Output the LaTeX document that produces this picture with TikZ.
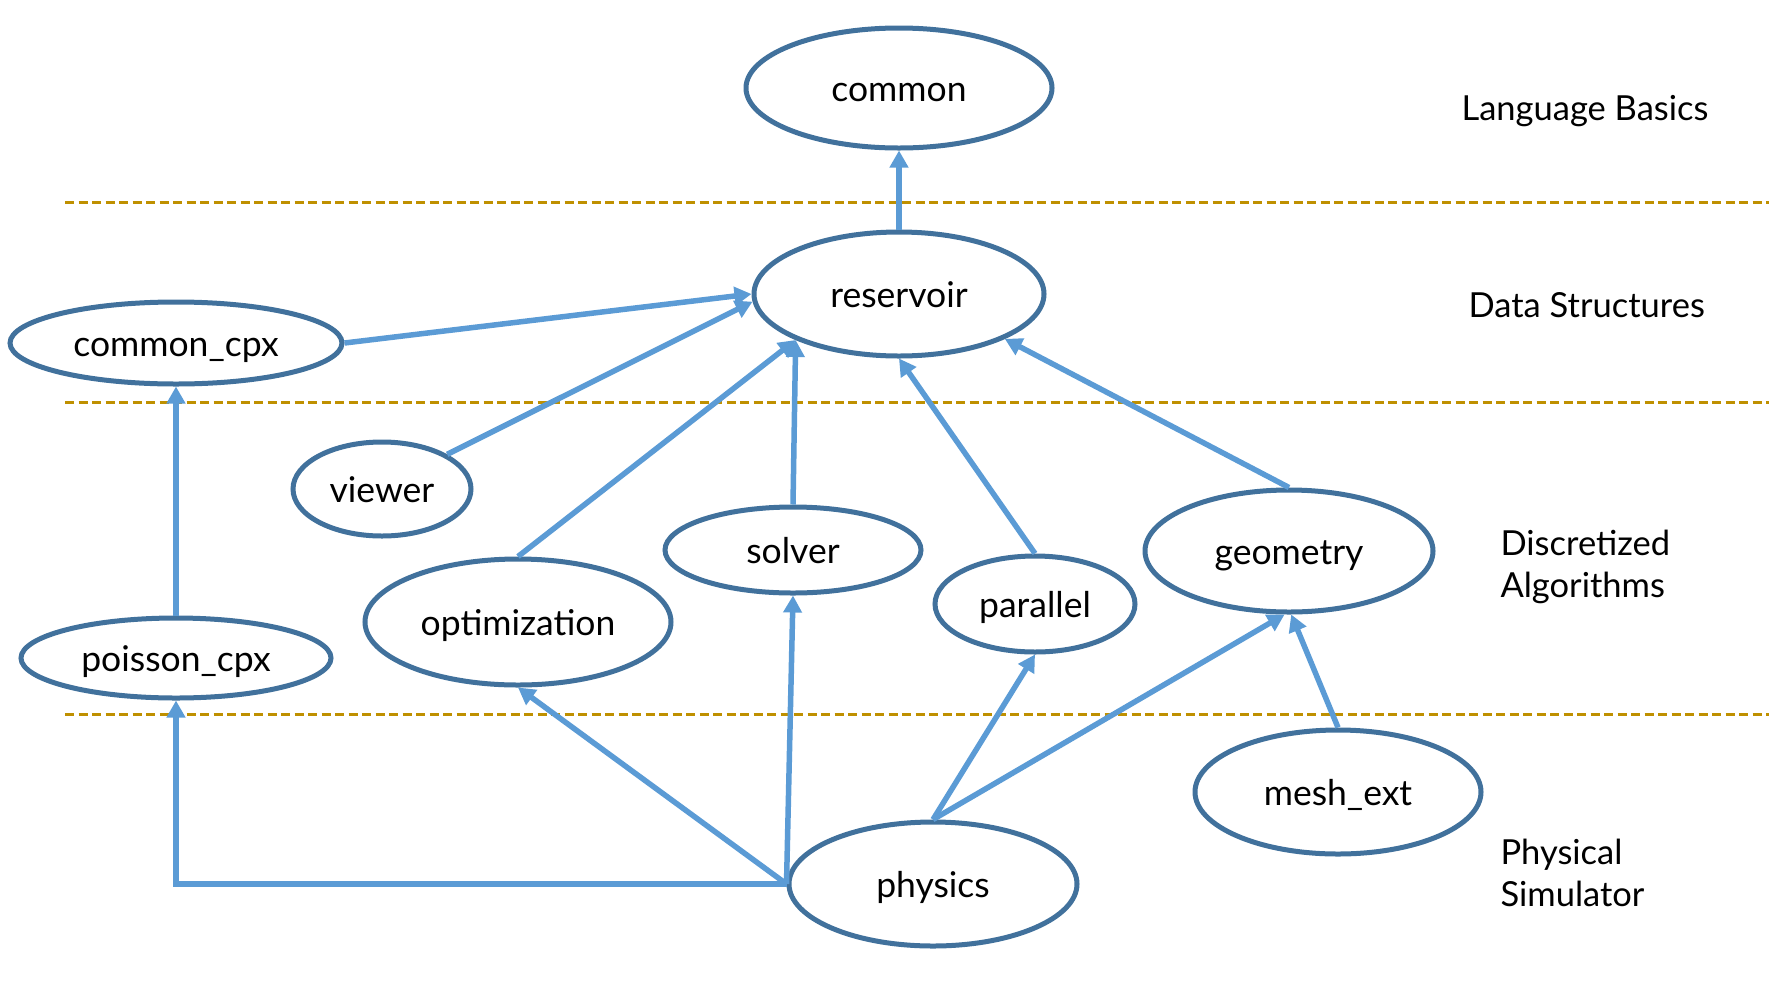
\documentclass[tikz,border=0pt]{standalone}
\usepackage{fontspec}
\setmainfont{Lato}
\usetikzlibrary{shapes.geometric,arrows.meta}
\definecolor{rimblue}{HTML}{41719C}
\definecolor{linkblue}{HTML}{5B9BD5}
\definecolor{layergold}{HTML}{BF9000}
\tikzset{
  module/.style={ellipse, draw=rimblue, line width=5pt, fill=white, inner sep=0pt,
    text height=26pt, text depth=0pt,
    font=\fontsize{35.5}{42}\selectfont},
  dep/.style={draw=linkblue, line width=5.5pt, -{Triangle[length=17pt,width=18pt]}},
  layerline/.style={draw=layergold, line width=3pt, dash pattern=on 9pt off 4.5pt},
  layertag/.style={anchor=west, align=left, font=\fontsize{34.5}{42}\selectfont}
}
\begin{document}
\begin{tikzpicture}[x=1pt,y=-1pt]
\useasboundingbox (0,0) rectangle (1789,989);

% layer separators
\coordinate (s1a) at (65,202);  \coordinate (s1b) at (1769,202);
\coordinate (s2a) at (65,402);  \coordinate (s2b) at (1769,402);
\coordinate (s3a) at (65,714);  \coordinate (s3b) at (1769,714);
\draw[layerline] (s1a) -- (s1b);
\draw[layerline] (s2a) -- (s2b);
\draw[layerline] (s3a) -- (s3b);

% layer names
\node[layertag] (lb) at (1458,111) {Language Basics};
\node[layertag] (ds) at (1465,305) {Data Structures};
\node[layertag] (da) at (1497,567) {Discretized\\Algorithms};
\node[layertag] (ps) at (1497,873) {Physical\\Simulator};

% modules
\node[module, minimum width=306pt, minimum height=120pt] (common)   at (899,88)  {common};
\node[module, minimum width=290pt, minimum height=124pt] (reservoir) at (899,294) {reservoir};
\node[module, minimum width=332pt, minimum height=82pt]  (ccpx)     at (176,343) {common\_cpx};
\node[module, minimum width=178pt, minimum height=94pt]  (viewer)   at (382,489) {viewer};
\node[module, minimum width=256pt, minimum height=86pt]  (solver)   at (793,550) {solver};
\node[module, minimum width=306pt, minimum height=126pt] (optim)    at (518,622) {optimization};
\node[module, minimum width=200pt, minimum height=96pt]  (parallel) at (1035,604) {parallel};
\node[module, minimum width=288pt, minimum height=122pt] (geometry) at (1289,551) {geometry};
\node[module, minimum width=310pt, minimum height=80pt]  (pcpx)     at (176,658) {poisson\_cpx};
\node[module, minimum width=286pt, minimum height=124pt] (mesh)     at (1338,792) {mesh\_ext};
\node[module, minimum width=288pt, minimum height=124pt] (physics)  at (933,884) {physics};

% dependencies
\draw[dep] (reservoir.north) -- (common.south);
\draw[dep] (ccpx.east) -- (reservoir.west);
\draw[dep] (viewer.28) -- (reservoir.183);
\draw[dep] (optim.north) -- (reservoir.204.5);
\draw[dep] (solver.north) -- (reservoir.204.5);
\draw[dep] (parallel.north) -- (reservoir.south);
\draw[dep] (geometry.north) -- (reservoir.337);
\draw[dep] (pcpx.north) -- (ccpx.south);
\draw[dep] (physics.west) -| (pcpx.south);
\draw[dep] (physics.west) -- (optim.south);
\draw[dep] (physics.west) -- (solver.south);
\draw[dep] (physics.north) -- (parallel.south);
\draw[dep] (physics.north) -- (geometry.266);
\draw[dep] (mesh.north) -- (geometry.272);
\end{tikzpicture}
\end{document}
